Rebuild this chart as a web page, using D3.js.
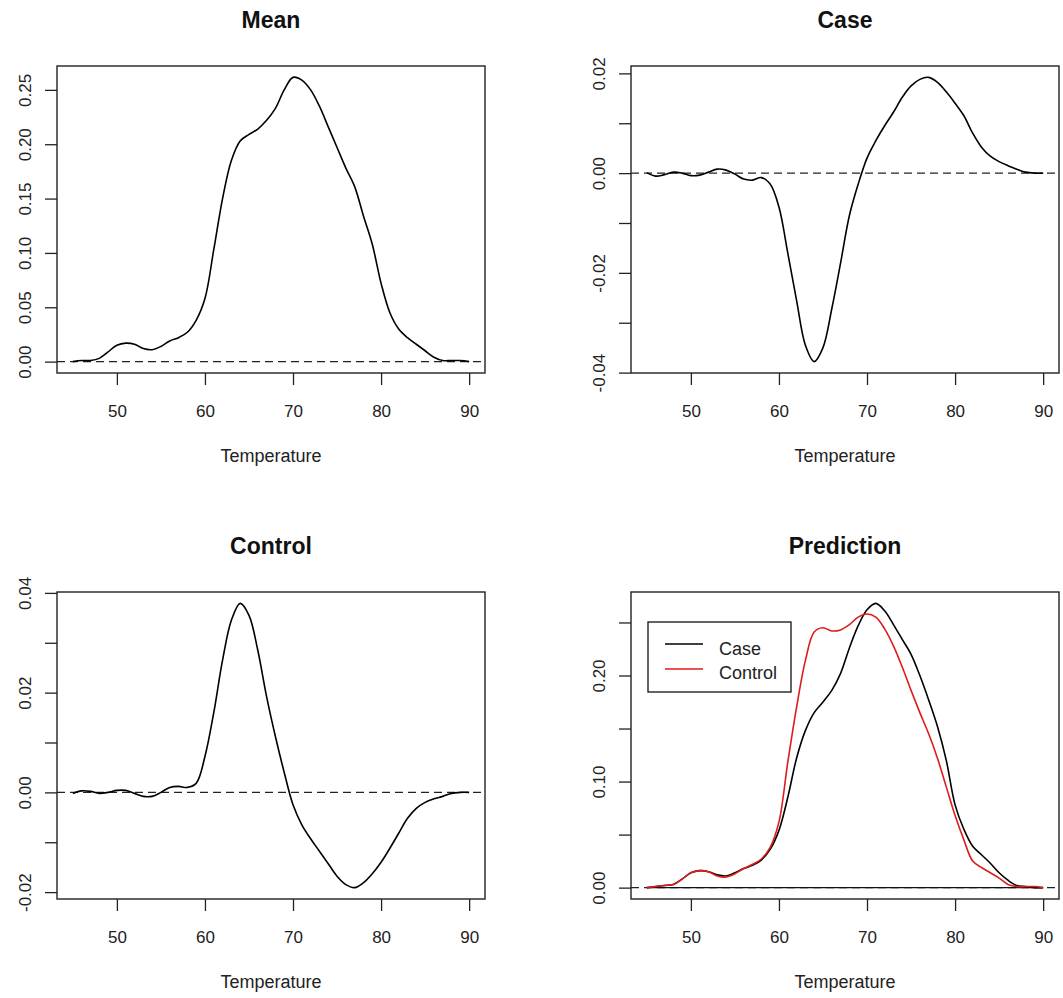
<!DOCTYPE html>
<html><head><meta charset="utf-8">
<script src="https://cdn.jsdelivr.net/npm/d3@7"></script>
<style>body{margin:0;background:#fff} svg{display:block;font-family:"Liberation Sans",Arial,sans-serif}</style>
</head><body>
<svg id="chart" width="1063" height="998"></svg>
<script>
// ---------- data ----------
const temperature = [45,46,47,48,49,50,51,52,53,54,55,56,57,58,59,60,61,62,63,64,65,66,67,68,69,70,71,72,73,74,75,76,77,78,79,80,81,82,83,84,85,86,87,88,89,90];

const meanValues = [0.000,0.001,0.001,0.003,0.009,0.015,0.017,0.016,0.012,0.011,0.014,0.019,0.022,0.027,0.038,0.058,0.103,0.150,0.185,0.203,0.209,0.214,0.222,0.233,0.250,0.2615,0.259,0.250,0.235,0.216,0.197,0.178,0.161,0.134,0.108,0.072,0.045,0.030,0.022,0.016,0.010,0.004,0.001,0.001,0.001,0.000];

const caseEffect = [0.0001,-0.0006,-0.0003,0.0002,0.0000,-0.0005,-0.0004,0.0002,0.0008,0.0006,-0.0002,-0.0012,-0.0014,-0.0009,-0.0022,-0.0068,-0.0160,-0.0255,-0.0345,-0.0378,-0.0350,-0.0272,-0.0180,-0.0085,-0.0022,0.0030,0.0065,0.0095,0.0122,0.0152,0.0175,0.0188,0.0192,0.0182,0.0163,0.0140,0.0115,0.0080,0.0052,0.0034,0.0023,0.0015,0.0008,0.0002,0.0000,0.0000];

const controlEffect = [-0.0002,0.0003,0.0002,-0.0002,0.0000,0.0004,0.0004,-0.0002,-0.0008,-0.0008,0.0000,0.0010,0.0012,0.0010,0.0018,0.0072,0.0160,0.0265,0.0345,0.0379,0.0355,0.0285,0.0192,0.0112,0.0040,-0.0025,-0.0065,-0.0093,-0.0118,-0.0143,-0.0168,-0.0185,-0.0191,-0.0181,-0.0163,-0.0140,-0.0112,-0.0082,-0.0052,-0.0032,-0.0020,-0.0013,-0.0008,-0.0002,0.0000,0.0000];

const predCase = [0.000,0.001,0.002,0.003,0.008,0.014,0.016,0.015,0.012,0.011,0.014,0.018,0.021,0.026,0.036,0.054,0.085,0.122,0.148,0.165,0.175,0.186,0.202,0.226,0.247,0.262,0.268,0.261,0.248,0.234,0.220,0.200,0.177,0.152,0.120,0.078,0.055,0.039,0.031,0.023,0.014,0.007,0.002,0.001,0.000,0.000];

const predControl = [0.000,0.001,0.002,0.003,0.008,0.014,0.016,0.015,0.011,0.010,0.013,0.018,0.022,0.027,0.038,0.062,0.118,0.170,0.214,0.241,0.245,0.242,0.243,0.248,0.255,0.258,0.255,0.244,0.228,0.208,0.186,0.165,0.145,0.122,0.095,0.068,0.045,0.025,0.019,0.014,0.009,0.003,0.001,0.001,0.001,0.000];

const xTicks = [50,60,70,80,90];
const meanYTicks = [0,0.05,0.10,0.15,0.20,0.25];
const meanYLabels = ["0.00","0.05","0.10","0.15","0.20","0.25"];
const caseYTicks = [-0.04,-0.03,-0.02,-0.01,0,0.01,0.02];
const caseYLabels = ["-0.04","","-0.02","","0.00","","0.02"];
const controlYTicks = [-0.02,-0.01,0,0.01,0.02,0.03,0.04];
const controlYLabels = ["-0.02","","0.00","","0.02","","0.04"];
const predYTicks = [0,0.05,0.10,0.15,0.20,0.25];
const predYLabels = ["0.00","","0.10","","0.20",""];

const titles = ["Mean","Case","Control","Prediction"];
const xLabel = "Temperature";
const legendLabels = ["Case","Control"];
const seriesColors = ["#000000","#dd1c1c"];

// ---------- layout ----------
const svg = d3.select("#chart");
const W = 428, H = 307;
const panels = [
  {left:57, top:66, title:titles[0], series:[meanValues], colors:["#000"], yTicks:meanYTicks, yLabels:meanYLabels, zeroSolid:false},
  {left:631, top:66, title:titles[1], series:[caseEffect], colors:["#000"], yTicks:caseYTicks, yLabels:caseYLabels, zeroSolid:false},
  {left:57, top:592, title:titles[2], series:[controlEffect], colors:["#000"], yTicks:controlYTicks, yLabels:controlYLabels, zeroSolid:false},
  {left:631, top:592, title:titles[3], series:[predCase, predControl], colors:seriesColors, yTicks:predYTicks, yLabels:predYLabels, zeroSolid:true, legend:true}
];

function padExtent(vals){
  const [a,b] = d3.extent(vals); const p = (b-a)*0.04; return [a-p, b+p];
}

panels.forEach(p => {
  const xDom = padExtent(temperature);
  const yDom = padExtent(p.series.flat());
  const x = d3.scaleLinear().domain(xDom).range([p.left, p.left+W]);
  const y = d3.scaleLinear().domain(yDom).range([p.top+H, p.top]);
  const g = svg.append("g");

  // title
  g.append("text").attr("x", p.left+W/2).attr("y", p.top-38)
    .attr("text-anchor","middle").attr("font-weight","bold").attr("font-size",23)
    .attr("fill","#111").text(p.title);

  // x axis
  const xa = g.append("g").attr("transform",`translate(0,${p.top+H})`)
    .call(d3.axisBottom(x).tickValues(xTicks).tickSize(12).tickFormat(d3.format("d")));
  xa.select(".domain").remove();
  xa.selectAll("line").attr("stroke","#222").attr("stroke-width",1.3);
  xa.selectAll("text").attr("y",44).attr("dy",null).attr("font-size",17)
    .attr("font-family","Liberation Sans, Arial, sans-serif").attr("fill","#222");

  // y axis
  const ya = g.append("g").attr("transform",`translate(${p.left},0)`)
    .call(d3.axisLeft(y).tickValues(p.yTicks).tickSize(12)
      .tickFormat((d,i) => p.yLabels[i]));
  ya.select(".domain").remove();
  ya.selectAll("line").attr("stroke","#222").attr("stroke-width",1.3);
  ya.selectAll("text").attr("x",null).attr("dy",null)
    .attr("transform","translate(-26,0) rotate(-90)")
    .attr("text-anchor","middle").attr("font-size",17)
    .attr("font-family","Liberation Sans, Arial, sans-serif").attr("fill","#222");

  // x label
  g.append("text").attr("x", p.left+W/2).attr("y", p.top+H+89)
    .attr("text-anchor","middle").attr("font-size",18).attr("fill","#222").text(xLabel);

  // zero reference line (dashed)
  g.append("line").attr("x1",p.left).attr("x2",p.left+W)
    .attr("y1",y(0)).attr("y2",y(0))
    .attr("stroke","#222").attr("stroke-width",1.4).attr("stroke-dasharray","8,5");
  if (p.zeroSolid) {
    g.append("line").attr("x1",x(temperature[0])).attr("x2",x(temperature[temperature.length-1]))
      .attr("y1",y(0)).attr("y2",y(0)).attr("stroke","#111").attr("stroke-width",1.4);
  }

  // curves
  const line = d3.line().x((d,i)=>x(temperature[i])).y(d=>y(d)).curve(d3.curveCatmullRom.alpha(0.5));
  p.series.forEach((s,k) => {
    g.append("path").datum(s).attr("d",line).attr("fill","none")
      .attr("stroke",p.colors[k]).attr("stroke-width",1.6).attr("stroke-linejoin","round");
  });

  // box
  g.append("rect").attr("x",p.left).attr("y",p.top).attr("width",W).attr("height",H)
    .attr("fill","none").attr("stroke","#222").attr("stroke-width",1.4);

  // legend
  if (p.legend) {
    const lg = g.append("g").attr("transform",`translate(${p.left},${p.top})`);
    lg.append("rect").attr("x",17).attr("y",30).attr("width",143).attr("height",70)
      .attr("fill","#fff").attr("stroke","#222").attr("stroke-width",1.4);
    legendLabels.forEach((lab,i) => {
      lg.append("line").attr("x1",34).attr("x2",72).attr("y1",52+i*25).attr("y2",52+i*25)
        .attr("stroke",seriesColors[i]).attr("stroke-width",1.5);
      lg.append("text").attr("x",88).attr("y",63+i*24).attr("font-size",18)
        .attr("fill","#222").text(lab);
    });
  }
});
</script>
</body></html>
